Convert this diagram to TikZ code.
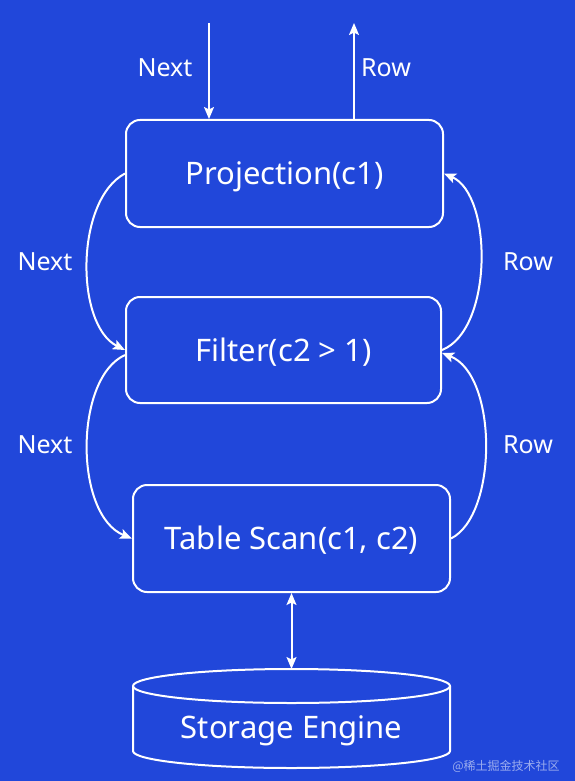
\documentclass[tikz,border=0pt]{standalone}
\usepackage{fontspec}
\setmainfont{Noto Sans}
\newfontfamily\cjk{Noto Sans CJK SC}
\usetikzlibrary{arrows.meta,calc}
\definecolor{bg}{RGB}{33,71,218}
\tikzset{
  opbox/.style={draw=white, line width=2pt, rounded corners=14pt, text=white,
    font=\fontsize{31}{34}\selectfont, inner sep=0pt, text height=22pt, text depth=0pt},
  lbl/.style={text=white, font=\fontsize{25}{28}\selectfont, inner sep=0pt, text height=18pt, text depth=0pt},
  conn/.style={white, line width=2pt, -{Stealth[length=12pt,width=10pt,inset=2.5pt]}},
  dconn/.style={white, line width=2pt, {Stealth[length=12pt,width=10pt,inset=2.5pt]}-{Stealth[length=12pt,width=10pt,inset=2.5pt]}},
}
\begin{document}
\begin{tikzpicture}[x=1pt,y=-1pt]
\useasboundingbox (0,0) rectangle (575,781);
\fill[bg] (0,0) rectangle (575,781);

\node[opbox, minimum width=317pt, minimum height=107pt] (p) at (284.5,173.5) {Projection(c1)};
\node[opbox, minimum width=315pt, minimum height=106pt] (f) at (283.5,350) {Filter(c2 > 1)};
\node[opbox, minimum width=317pt, minimum height=107pt] (t) at (291.5,538.5) {Table Scan(c1, c2)};

% storage engine cylinder
\draw[white, line width=2pt] (133,686) -- (133,751) arc[start angle=180, end angle=0, x radius=158.5, y radius=17] -- (450,686);
\draw[white, line width=2pt] (291.5,686) ellipse [x radius=158.5, y radius=17];
\node[lbl, font=\fontsize{31}{34}\selectfont, text height=22pt] (se) at (291.5,727) {Storage Engine};
\coordinate (setop) at (291.5,669);

% top arrows
\coordinate (nt) at (209,23);
\coordinate (rt) at (354,23);
\draw[conn] (nt) -- (nt |- p.north);
\draw[conn] (rt |- p.north) -- (rt);
\node[lbl] (n0) at (165,68) {Next};
\node[lbl] (r0) at (386,68) {Row};

% left curves (Next)
\draw[conn] (p.west) .. controls (75,200) and (75,325) .. (f.west);
\draw[conn] ($(f.west)+(0,5)$) .. controls (74,378) and (74,515) .. (t.west);
\node[lbl] (n1) at (45,261) {Next};
\node[lbl] (n2) at (45,444) {Next};

% right curves (Row)
\draw[conn] (f.east) .. controls (493,330) and (493,195) .. (p.east);
\draw[conn] (t.east) .. controls (498,515) and (498,375) .. ($(f.east)+(0,3)$);
\node[lbl] (r1) at (528,261) {Row};
\node[lbl] (r2) at (528,444) {Row};

% storage link
\draw[dconn] (t.south) -- (setop);

% watermark
\node[text=white!55!bg, font=\cjk\fontsize{12}{14}\selectfont, inner sep=0pt] (wm) at (506,766) {@稀土掘金技术社区};
\end{tikzpicture}
\end{document}
